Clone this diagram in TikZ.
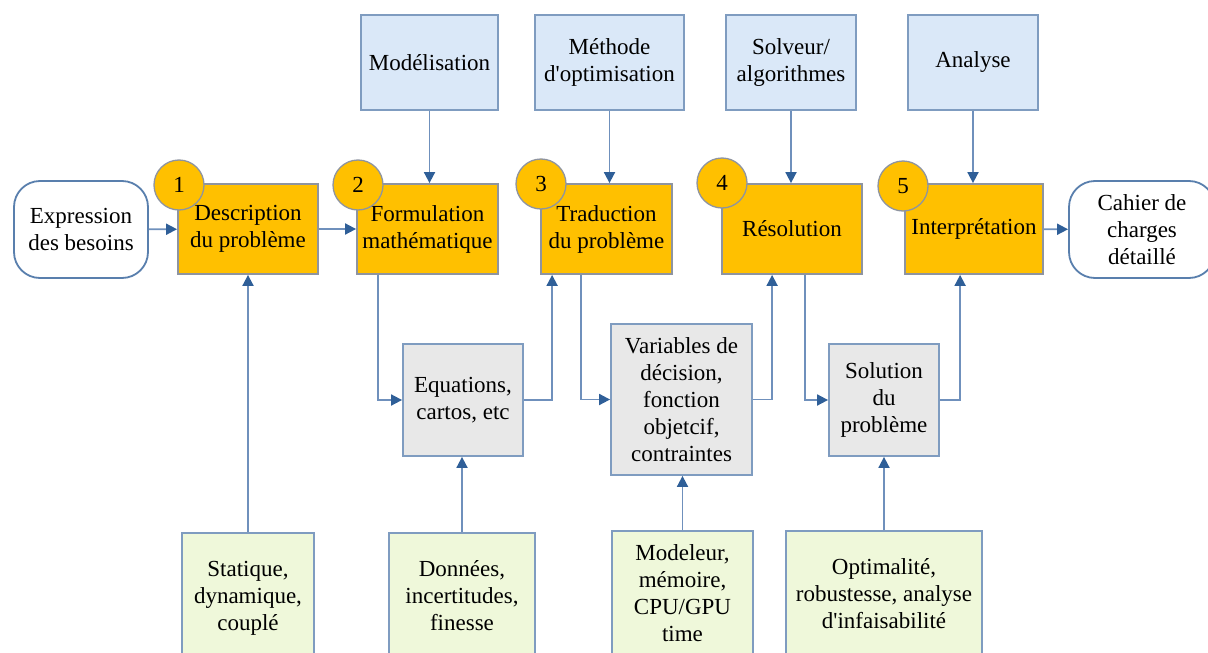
\documentclass[tikz,border=0pt]{standalone}
\usepackage{fontspec}
\setmainfont{Liberation Serif}
\usetikzlibrary{arrows.meta}
\definecolor{orng}{HTML}{FFC000}
\definecolor{obord}{HTML}{8E94A0}
\definecolor{bluef}{HTML}{DAE8F8}
\definecolor{grayf}{HTML}{E8E8E8}
\definecolor{greenf}{HTML}{EFF8DA}
\definecolor{bord}{HTML}{7F9CC0}
\definecolor{lcol}{HTML}{6F90BC}
\definecolor{acol}{HTML}{2F5F98}
\begin{document}
\begin{tikzpicture}[x=1pt,y=-1pt,
  base/.style={draw=bord, line width=1.8pt, align=center, inner sep=0pt,
    font=\fontsize{23}{27}\selectfont},
  obox/.style={base, fill=orng, draw=obord, minimum width=140, minimum height=90},
  bbox/.style={base, fill=bluef, minimum height=95},
  gbox/.style={base, fill=grayf},
  vbox/.style={base, fill=greenf},
  rbox/.style={base, fill=white, draw=acol!80, rounded corners=26pt, minimum height=97},
  num/.style={circle, fill=orng, draw=obord, line width=1.3pt, minimum size=50, inner sep=0pt,
    font=\fontsize{23}{27}\selectfont},
  arr/.style={draw=lcol, line width=1.8pt, -{Triangle[length=11pt,width=11pt,color=acol]}}
]
\useasboundingbox (0,0) rectangle (1208,653);

% top blue boxes
\node[bbox, minimum width=137] (mod) at (429.5,62.5) {Modélisation};
\node[bbox, minimum width=149] (met) at (609.5,62.5) {Méthode\\d\textquotesingle optimisation};
\node[bbox, minimum width=130] (sol) at (791,62.5) {Solveur/\\algorithmes};
\node[bbox, minimum width=130] (ana) at (973,62.5) {Analyse};

% main row
\node[rbox, minimum width=134] (exp) at (81,229.5) {Expression\\des besoins};
\node[obox, minimum width=140] (b1) at (248,229) {Description\\du problème};
\node[obox, minimum width=141] (b2) at (427.5,229) {Formulation\\mathématique};
\node[obox, minimum width=131] (b3) at (606.5,229) {Traduction\\du problème};
\node[obox, minimum width=140] (b4) at (792,229) {Résolution};
\node[obox, minimum width=138] (b5) at (974,229) {Interprétation};
\node[rbox, minimum width=146] (cah) at (1142,229.5) {Cahier de\\charges\\détaillé};

\node[num] (n1) at (179,185) {1};
\node[num] (n2) at (358,185) {2};
\node[num] (n3) at (541,184) {3};
\node[num] (n4) at (722,183) {4};
\node[num] (n5) at (903,186) {5};

% gray boxes
\node[gbox, minimum width=120, minimum height=112] (eq) at (463,400) {Equations,\\cartos, etc};
\node[gbox, minimum width=141, minimum height=151] (var) at (681.5,399.5) {Variables de\\décision,\\fonction\\objetcif,\\contraintes};
\node[gbox, minimum width=110, minimum height=112] (so) at (884,400) {Solution\\du\\problème};

% green boxes
\node[vbox, minimum width=132, minimum height=130] (g1) at (248,598) {Statique,\\dynamique,\\couplé};
\node[vbox, minimum width=146, minimum height=126] (g2) at (462,596) {Données,\\incertitudes,\\finesse};
\node[vbox, minimum width=141, minimum height=124] (g3) at (682.5,593) {Modeleur,\\mémoire,\\CPU/GPU\\time};
\node[vbox, minimum width=196, minimum height=126] (g4) at (884,594) {Optimalité,\\robustesse, analyse\\d\textquotesingle infaisabilité};

% connectors
\draw[arr] (exp) -- (b1);
\draw[arr] (b1) -- (b2);
\draw[arr] (b5) -- (cah);

\draw[arr] (mod.south) -- (mod.south |- b2.north);
\draw[arr] (met.south) -- (met.south |- b3.north);
\draw[arr] (sol.south) -- (sol.south |- b4.north);
\draw[arr] (ana.south) -- (ana.south |- b5.north);

\draw[arr] ([xshift=22pt]b2.south west) |- (eq.west);
\draw[arr] (eq.east) -| ([xshift=12pt]b3.south west);
\draw[arr] ([xshift=41pt]b3.south west) |- (var.west);
\draw[arr] (var.east) -| ([xshift=51pt]b4.south west);
\draw[arr] ([xshift=84pt]b4.south west) |- (so.west);
\draw[arr] (so.east) -| ([xshift=56pt]b5.south west);

\draw[arr] (g1.north) -- (g1.north |- b1.south);
\draw[arr] (g2.north) -- (g2.north |- eq.south);
\draw[arr] (g3.north) -- (g3.north |- var.south);
\draw[arr] (g4.north) -- (g4.north |- so.south);
\end{tikzpicture}
\end{document}
